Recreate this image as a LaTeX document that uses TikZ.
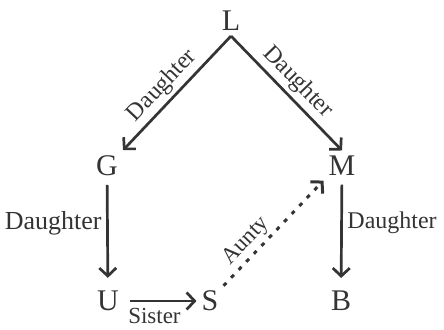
\documentclass[tikz,border=0pt]{standalone}
\usepackage{fontspec}
\setmainfont{Liberation Serif}
\usetikzlibrary{positioning}
\usetikzlibrary{arrows.meta}
\definecolor{inkgray}{RGB}{52,52,52}
\newcommand{\letterfont}{\fontsize{30}{31}\selectfont}
\newcommand{\relfont}{\fontsize{24}{25}\selectfont}
\newcommand{\sidefont}{\fontsize{26}{27}\selectfont}
\newcommand{\smallrelfont}{\fontsize{23}{24}\selectfont}

\begin{document}
\begin{tikzpicture}[x=1pt, y=1pt, >={Straight Barb[length=8pt, width=17pt]},
    person/.style={inner sep=5pt, text=inkgray, font=\letterfont},
    rel/.style={->, line width=2.7pt, draw=inkgray},
    guess/.style={->, line width=3pt, draw=inkgray, dash pattern=on 4pt off 7pt},
    rellabel/.style={text=inkgray, font=\relfont, inner sep=1.5pt}]
    \useasboundingbox (0, 0) rectangle (444, 329);

    % Family members
    \node[person] (L) at (231, 308) {L};
    \node[person] (G) at (107, 163.5) {G};
    \node[person] (M) at (342, 163.5) {M};
    \node[person] (U) at (108, 28) {U};
    \node[person] (S) at (210, 28) {S};
    \node[person] (B) at (341, 28) {B};

    % Relations
    \draw[rel] (L.south) -- (G.north east)
        node[rellabel, sloped, above=2pt, pos=0.53] {Daughter};
    \draw[rel] (L.south) -- (M.north)
        node[rellabel, sloped, above=2pt, pos=0.5] {Daughter};
    \draw[rel, shorten <=4pt, shorten >=8pt] (G) -- (U)
        node[rellabel, font=\sidefont, left=3pt, pos=0.4] {Daughter};
    \draw[rel, shorten <=4pt, shorten >=8pt] (M) -- (B)
        node[rellabel, font=\relfont, right=3pt, pos=0.4] {Daughter};
    \draw[rel, shorten <=6pt] (U) -- (S)
        node[rellabel, font=\smallrelfont, below=4.5pt, pos=0.42] {Sister};
    \draw[guess] (S.north east) -- (M.south west)
        node[rellabel, font=\smallrelfont, sloped, above=1pt, pos=0.33] {Aunty};
\end{tikzpicture}
\end{document}
